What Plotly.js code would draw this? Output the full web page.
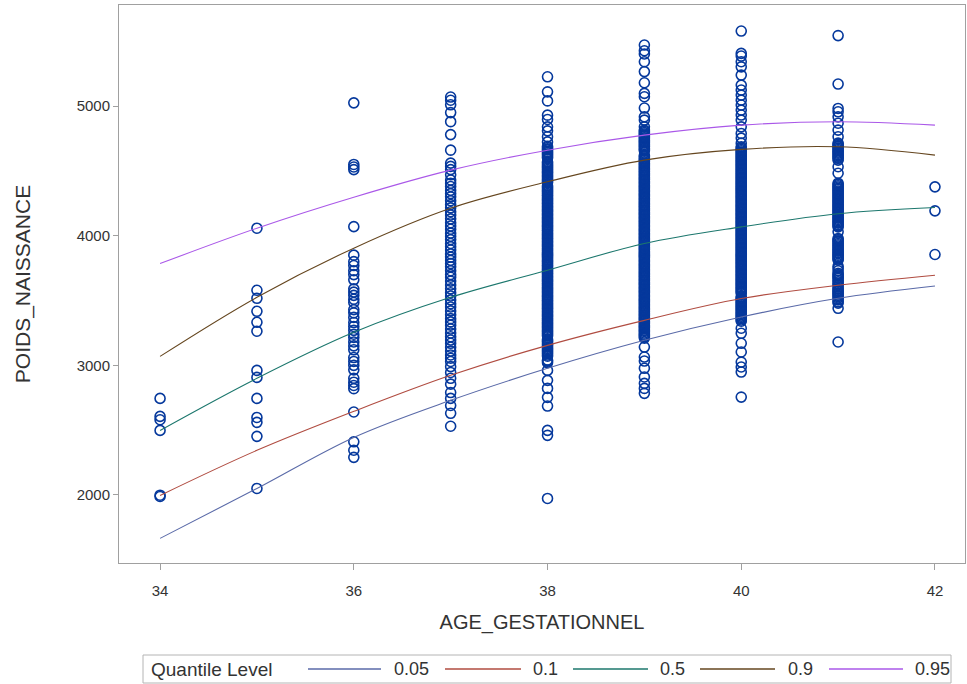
<!DOCTYPE html>
<html>
<head>
<meta charset="utf-8">
<script src="https://cdn.plot.ly/plotly-3.0.1.min.js"></script>
<style>
  html, body { margin: 0; padding: 0; background: #fff; }
  #chart { width: 967px; height: 684px; }
</style>
</head>
<body>
<div id="chart"></div>
<script>
// Birth weight (g) observed at each gestational age (weeks)
const w34 = [2745, 2606, 2580, 2498, 1998, 1988];
const w35 = [4058, 3579, 3517, 3417, 3332, 3263, 2961, 2907, 2745, 2598, 2560, 2452, 2050];
const w36 = [5025, 4550, 4530, 4510, 4070, 3850, 3800, 3770, 3730, 3700, 3660, 3590, 3565,
  3540, 3510, 3485, 3430, 3405, 3370, 3330, 3300, 3270, 3240, 3215, 3180, 3150, 3120,
  3060, 3030, 3000, 2965, 2900, 2870, 2845, 2820, 2640, 2410, 2345, 2290];
const w37 = [5070, 5045, 5010, 4950, 4880, 4780, 4660, 4560, 4535, 4510, 4470, 4430, 4405,
  4380, 4350, 4325, 4300, 4270, 4240, 4215, 4185, 4160, 4130, 4100, 4075, 4050, 4020,
  3995, 3970, 3940, 3915, 3890, 3860, 3835, 3810, 3785, 3760, 3730, 3700, 3680, 3650,
  3620, 3590, 3560, 3535, 3505, 3475, 3450, 3420, 3390, 3360, 3335, 3310, 3280, 3250,
  3220, 3195, 3170, 3140, 3110, 3080, 3055, 3030, 2990, 2945, 2900, 2855, 2790, 2745,
  2690, 2630, 2530];
const w38 = [5226, 5110, 5040, 4930, 4897, 4840, 4809, 4763, 4724,
  4690, 4681, 4670, 4662, 4650, 4641, 4630, 4621, 4610, 4600, 4570, 4561, 4550, 4540,
  4531, 4520, 4511, 4500, 4490, 4481, 4470, 4460, 4451, 4440, 4430, 4421, 4410, 4385,
  4375, 4366, 4355, 4345, 4336, 4325, 4315, 4306, 4295, 4285, 4276, 4265, 4255, 4246,
  4235, 4225, 4216, 4205, 4195, 4186, 4175, 4165, 4156, 4145, 4135, 4126, 4115, 4105,
  4096, 4085, 4075, 4066, 4055, 4045, 4036, 4025, 4015, 4006, 3995, 3985, 3976, 3965,
  3955, 3946, 3935, 3925, 3916, 3905, 3895, 3886, 3875, 3865, 3856, 3845, 3835, 3826,
  3815, 3805, 3796, 3785, 3775, 3766, 3755, 3745, 3736, 3725, 3715, 3706, 3695, 3685,
  3676, 3665, 3655, 3646, 3635, 3625, 3616, 3605, 3595, 3586, 3575, 3565, 3556, 3545,
  3535, 3526, 3515, 3505, 3496, 3485, 3475, 3466, 3455, 3445, 3436, 3425, 3415, 3406,
  3395, 3385, 3376, 3365, 3355, 3346, 3335, 3325, 3316, 3305, 3295, 3286, 3275, 3265,
  3256, 3245, 3235, 3226, 3200, 3190, 3181, 3170, 3160, 3151, 3140, 3130, 3121, 3110,
  3100, 3091, 3080, 3070, 3040, 3031, 3020,
  2961, 2884, 2822, 2753, 2686, 2498, 2460, 1973];
const w39 = [5471, 5427, 5402, 5342, 5266, 5180, 5098, 5072, 4985, 4917, 4892, 4840,
  4815, 4806, 4795, 4785, 4776, 4765, 4755, 4746, 4735, 4725, 4716, 4705, 4695, 4686,
  4675, 4665, 4656, 4620, 4611, 4600, 4590, 4581, 4570, 4560, 4551, 4540, 4530, 4521,
  4510, 4500, 4491, 4480, 4470, 4461, 4450, 4440, 4431, 4420, 4410, 4401, 4390, 4380,
  4371, 4360, 4350, 4341, 4330, 4320, 4311, 4300, 4290, 4281, 4270, 4260, 4251, 4240,
  4230, 4221, 4210, 4200, 4191, 4180, 4170, 4161, 4150, 4140, 4131, 4120, 4110, 4101,
  4090, 4080, 4071, 4060, 4050, 4041, 4030, 4020, 4011, 4000, 3990, 3981, 3970, 3960,
  3951, 3940, 3930, 3921, 3910, 3900, 3891, 3880, 3870, 3861, 3850, 3840, 3831, 3820,
  3810, 3801, 3790, 3780, 3771, 3760, 3750, 3741, 3730, 3720, 3711, 3700, 3690, 3681,
  3670, 3660, 3651, 3640, 3630, 3621, 3610, 3600, 3591, 3580, 3570, 3561, 3550, 3540,
  3531, 3520, 3510, 3501, 3490, 3480, 3471, 3460, 3450, 3441, 3430, 3420, 3411, 3400,
  3390, 3381, 3370, 3360, 3351, 3340, 3330, 3321, 3310, 3300, 3291, 3280, 3270, 3261,
  3250, 3240, 3231, 3220, 3210,
  3141, 3064, 3033, 2977, 2910, 2861, 2822, 2784];
const w40 = [5579, 5407, 5386, 5342, 5303, 5239, 5162, 5124, 5085, 5046, 5008, 4969, 4931,
  4892, 4840, 4789, 4753, 4714,
  4686, 4676, 4665, 4656, 4645, 4636, 4625, 4616, 4605, 4596, 4585, 4576, 4565, 4556,
  4545, 4536, 4525, 4516, 4505, 4496, 4485, 4476, 4465, 4456, 4445, 4436, 4425, 4416,
  4405, 4396, 4385, 4376, 4365, 4356, 4345, 4336, 4325, 4316, 4305, 4296, 4285, 4276,
  4265, 4256, 4245, 4236, 4225, 4216, 4205, 4196, 4185, 4176, 4165, 4156, 4145, 4136,
  4125, 4116, 4105, 4096, 4085, 4076, 4065, 4056, 4045, 4036, 4025, 4016, 4005, 3996,
  3985, 3976, 3965, 3956, 3945, 3936, 3925, 3916, 3905, 3896, 3885, 3876, 3865, 3856,
  3845, 3836, 3825, 3816, 3805, 3796, 3785, 3776, 3765, 3756, 3745, 3736, 3725, 3716,
  3705, 3696, 3685, 3676, 3665, 3656, 3645, 3636, 3625, 3616, 3605, 3596, 3585, 3576,
  3565, 3556, 3530, 3520, 3511, 3500, 3490, 3481, 3470, 3460, 3451, 3440, 3430, 3421,
  3410, 3400, 3391, 3380, 3370, 3361, 3350, 3340,
  3286, 3247, 3170, 3103, 3025, 2987, 2948, 2755];
const w41 = [5544, 5170, 4982, 4956, 4917, 4868, 4815, 4763,
  4714, 4705, 4695, 4686, 4676, 4665, 4656, 4645, 4636, 4625, 4616, 4605, 4596, 4583,
  4532, 4482,
  4405, 4396, 4385, 4376, 4365, 4356, 4345, 4336, 4325, 4316, 4305, 4296, 4285, 4276,
  4265, 4256, 4245, 4236, 4225, 4216, 4205, 4196, 4185, 4176, 4165, 4156, 4145, 4136,
  4125, 4116, 4105, 4096, 4085, 4076, 4068, 4030,
  3979, 3970, 3960, 3951, 3940, 3930, 3921, 3910, 3900, 3891, 3880, 3870, 3861, 3850,
  3840, 3831, 3820, 3812, 3765, 3749, 3730, 3710, 3700, 3690, 3680, 3670, 3656, 3645,
  3630, 3620, 3605, 3591, 3580, 3570, 3560, 3551, 3540, 3530, 3520, 3505, 3490, 3480,
  3440, 3180];
const w42 = [4377, 4192, 3855];

const weightsByAge = { 34: w34, 35: w35, 36: w36, 37: w37, 38: w38, 39: w39, 40: w40, 41: w41, 42: w42 };

// Fitted quantile curves evaluated at each gestational age
const ages = [34, 35, 36, 37, 38, 39, 40, 41, 42];
const q05 = [1665, 2050, 2444, 2730, 2977, 3193, 3373, 3517, 3612];
const q10 = [1996, 2344, 2645, 2923, 3154, 3347, 3515, 3618, 3695];
const q50 = [2498, 2900, 3255, 3525, 3734, 3940, 4068, 4170, 4218];
const q90 = [3069, 3525, 3904, 4212, 4416, 4583, 4666, 4686, 4622];
const q95 = [3785, 4058, 4297, 4506, 4660, 4776, 4853, 4879, 4853];
const levelNames = ['0.05', '0.1', '0.5', '0.9', '0.95'];
const levelColors = ['#5a6aa8', '#b04c41', '#1c776d', '#65461f', '#aa58e8'];
const legendTitle = 'Quantile Level';

const px = [], py = [];
Object.keys(weightsByAge).forEach(a => {
  weightsByAge[a].forEach(v => { px.push(Number(a)); py.push(v); });
});

const traces = [{
  type: 'scatter', mode: 'markers', x: px, y: py, showlegend: false,
  hoverinfo: 'x+y',
  marker: { symbol: 'circle-open', size: 10, color: '#05389c', line: { width: 1.6 } }
}];
[q05, q10, q50, q90, q95].forEach((q, i) => {
  traces.push({
    type: 'scatter', mode: 'lines', x: ages, y: q, name: levelNames[i], showlegend: false,
    line: { color: levelColors[i], width: 1.1, shape: 'spline', smoothing: 1 }
  });
});

// Page geometry of the plotting area (px), used to lay out the legend strip
const W = 967, H = 684, L = 119, R = 2, T = 5, B = 121;
const plotW = W - L - R, plotH = H - T - B;
const toPX = x => (x - L) / plotW;
const toPY = y => (H - B - y) / plotH;

const fam = 'Liberation Sans, Arial, sans-serif';
const txt = '#333';

// Legend strip drawn below the plot: framed box, key lines and labels
const legendBox = { x0: 143, x1: 951, y0: 655, y1: 683 };
const legendMidY = 669;
const keyLines = [[308, 381], [445, 521], [573, 648], [700, 775], [829, 903]];
const keyLabelX = [392, 531, 658, 786, 913];

const shapes = [{
  type: 'rect', xref: 'paper', yref: 'paper',
  x0: toPX(legendBox.x0), x1: toPX(legendBox.x1), y0: toPY(legendBox.y1), y1: toPY(legendBox.y0),
  line: { color: '#b4b4b4', width: 1 }, fillcolor: 'rgba(0,0,0,0)'
}];
const annotations = [{
  xref: 'paper', yref: 'paper', x: toPX(149), y: toPY(legendMidY),
  xanchor: 'left', yanchor: 'middle', showarrow: false, text: legendTitle,
  font: { family: fam, size: 19, color: txt }
}];
keyLines.forEach((k, i) => {
  shapes.push({
    type: 'line', xref: 'paper', yref: 'paper',
    x0: toPX(k[0]), x1: toPX(k[1]), y0: toPY(legendMidY), y1: toPY(legendMidY),
    line: { color: levelColors[i], width: 1.5 }
  });
  annotations.push({
    xref: 'paper', yref: 'paper', x: toPX(keyLabelX[i]), y: toPY(legendMidY),
    xanchor: 'left', yanchor: 'middle', showarrow: false, text: levelNames[i],
    font: { family: fam, size: 18, color: txt }
  });
});

const layout = {
  width: W, height: H,
  margin: { l: L, r: R, t: T, b: B },
  paper_bgcolor: '#fff', plot_bgcolor: '#fff',
  font: { family: fam, size: 15, color: txt },
  showlegend: false,
  xaxis: {
    range: [33.576, 42.31], tickvals: [34, 36, 38, 40, 42],
    automargin: false, showgrid: false, zeroline: false,
    showline: true, mirror: true, linecolor: '#a0a0a0', linewidth: 1,
    ticks: 'outside', ticklen: 6, tickcolor: '#a0a0a0',
    ticklabelstandoff: 8,
    tickfont: { family: fam, size: 15, color: txt },
    title: { text: 'AGE_GESTATIONNEL', font: { family: fam, size: 20, color: txt }, standoff: 16 }
  },
  yaxis: {
    range: [1475, 5780], tickvals: [2000, 3000, 4000, 5000],
    automargin: false, showgrid: false, zeroline: false,
    showline: true, mirror: true, linecolor: '#a0a0a0', linewidth: 1,
    ticks: 'outside', ticklen: 5, tickcolor: '#a0a0a0',
    tickfont: { family: fam, size: 15, color: txt },
    title: { text: 'POIDS_NAISSANCE', font: { family: fam, size: 21, color: txt }, standoff: 40 }
  },
  shapes: shapes,
  annotations: annotations
};

Plotly.newPlot('chart', traces, layout, { displayModeBar: false, staticPlot: true });
</script>
</body>
</html>
